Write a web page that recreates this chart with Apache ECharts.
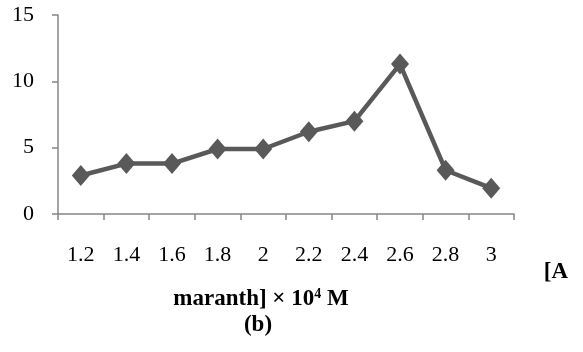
<!DOCTYPE html>
<html>
<head>
<meta charset="utf-8">
<script src="https://cdn.jsdelivr.net/npm/echarts@6/dist/echarts.min.js"></script>
<style>
  html, body { margin: 0; padding: 0; background: #fff; }
  #chart { width: 583px; height: 352px; }
</style>
</head>
<body>
<div id="chart"></div>
<script>
const categories = ['1.2', '1.4', '1.6', '1.8', '2', '2.2', '2.4', '2.6', '2.8', '3']
const values = [2.9, 3.8, 3.8, 4.9, 4.9, 6.2, 7.0, 11.3, 3.3, 1.95]
const yTicks = [0, 5, 10, 15]

const serif = '"Liberation Serif", "DejaVu Serif", serif'
const axisGray = '#868686'

const chart = echarts.init(document.getElementById('chart'), null, { renderer: 'canvas' })

chart.setOption({
  animation: false,
  grid: { left: 58, right: 69, top: 15, bottom: 138 },
  xAxis: {
    type: 'category',
    data: categories,
    boundaryGap: true,
    axisLine: { lineStyle: { color: axisGray, width: 1.5 } },
    axisTick: { show: true, length: 6, lineStyle: { color: axisGray, width: 1.5 } },
    axisLabel: { color: '#000', fontFamily: serif, fontSize: 22, margin: 30 },
    splitLine: { show: false }
  },
  yAxis: {
    type: 'value',
    min: yTicks[0],
    max: yTicks[yTicks.length - 1],
    interval: 5,
    axisLine: { show: true, lineStyle: { color: axisGray, width: 1.5 } },
    axisTick: { show: true, length: 6, lineStyle: { color: axisGray, width: 1.5 } },
    axisLabel: { color: '#000', fontFamily: serif, fontSize: 22, margin: 24 },
    splitLine: { show: false }
  },
  series: [{
    type: 'line',
    data: values,
    symbol: 'diamond',
    symbolSize: [18, 21],
    lineStyle: { color: '#595959', width: 4.5 },
    itemStyle: { color: '#595959' }
  }],
  graphic: [
    {
      type: 'text',
      style: {
        x: 556, y: 272, align: 'center', verticalAlign: 'middle',
        text: '[A', fontFamily: serif, fontSize: 23, fontWeight: 'bold', fill: '#000'
      }
    },
    {
      type: 'text',
      style: {
        x: 261, y: 299, align: 'center', verticalAlign: 'middle',
        text: '{t|maranth] × 10}{s|4}{t| M}',
        rich: {
          t: { fontFamily: serif, fontSize: 23, fontWeight: 'bold', fill: '#000', verticalAlign: 'bottom' },
          s: { fontFamily: serif, fontSize: 14, fontWeight: 'bold', fill: '#000', verticalAlign: 'top', padding: [0, 0, 10, 0] }
        }
      }
    },
    {
      type: 'text',
      style: {
        x: 258, y: 325, align: 'center', verticalAlign: 'middle',
        text: '(b)', fontFamily: serif, fontSize: 23, fontWeight: 'bold', fill: '#000'
      }
    }
  ]
})
</script>
</body>
</html>
